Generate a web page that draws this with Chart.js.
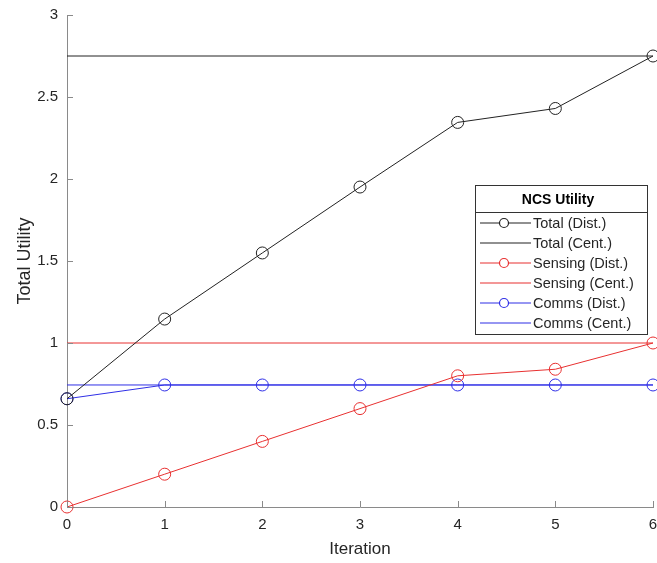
<!DOCTYPE html>
<html>
<head>
<meta charset="utf-8">
<script src="https://cdn.jsdelivr.net/npm/chart.js@4/dist/chart.umd.min.js"></script>
<style>
  html, body { margin: 0; padding: 0; background: #fff; }
  #wrap { width: 657px; height: 563px; }
</style>
</head>
<body>
<div id="wrap"><canvas id="utilityChart" width="657" height="563"></canvas></div>
<script>
// iterations and utility values per series
const iterations = [0, 1, 2, 3, 4, 5, 6];
const totalDist = [0.66, 1.146, 1.549, 1.951, 2.345, 2.43, 2.75];
const totalCent = 2.75;
const sensingDist = [0, 0.2, 0.4, 0.6, 0.8, 0.84, 1.0];
const sensingCent = 1.0;
const commsDist = [0.66, 0.744, 0.744, 0.744, 0.744, 0.744, 0.744];
const commsCent = 0.744;
const yTicks = [0, 0.5, 1, 1.5, 2, 2.5, 3];

const AXIS_GRAY = '#8a8a8a';
const TEXT_GRAY = '#262626';
const BLACK = '#222222';
const RED = '#e83030';
const BLUE = '#2f2fe6';
const FONT = '"Liberation Sans", Arial, Helvetica, sans-serif';

function pts(values) {
    return iterations.map((x, i) => ({ x: x, y: values[i] }));
}
function flat(v) {
    return [{ x: iterations[0], y: v }, { x: iterations[iterations.length - 1], y: v }];
}

function distSet(label, values, color) {
    return {
        label: label,
        data: pts(values),
        borderColor: color,
        backgroundColor: 'rgba(0,0,0,0)',
        borderWidth: 1,
        pointRadius: 6,
        pointBorderWidth: 1,
        pointBorderColor: color,
        pointBackgroundColor: 'rgba(0,0,0,0)',
        tension: 0,
        clip: false
    };
}
function centSet(label, v, color) {
    return {
        label: label,
        data: flat(v),
        borderColor: color,
        borderWidth: 1,
        pointRadius: 0,
        tension: 0,
        clip: false
    };
}

// inward tick marks like the original axes
const innerTicks = {
    id: 'innerTicks',
    afterDraw(chart) {
        const { ctx, scales: { x, y } } = chart;
        ctx.save();
        ctx.strokeStyle = AXIS_GRAY;
        ctx.lineWidth = 1;
        iterations.forEach(v => {
            const px = Math.round(x.getPixelForValue(v)) + 0.5;
            ctx.beginPath();
            ctx.moveTo(px, y.bottom);
            ctx.lineTo(px, y.bottom - 6);
            ctx.stroke();
        });
        yTicks.forEach(v => {
            const py = Math.round(y.getPixelForValue(v)) + 0.5;
            ctx.beginPath();
            ctx.moveTo(x.left, py);
            ctx.lineTo(x.left + 6, py);
            ctx.stroke();
        });
        ctx.restore();
    }
};

// boxed legend with title, drawn inside the plot area
const boxLegend = {
    id: 'boxLegend',
    afterDraw(chart) {
        const ctx = chart.ctx;
        const left = 475, top = 185, w = 172, h = 149;
        ctx.save();
        ctx.fillStyle = '#fff';
        ctx.fillRect(left, top, w, h);
        ctx.strokeStyle = '#333';
        ctx.lineWidth = 1;
        ctx.strokeRect(left + 0.5, top + 0.5, w, h);
        ctx.beginPath();
        ctx.moveTo(left, top + 27.5);
        ctx.lineTo(left + w, top + 27.5);
        ctx.stroke();

        ctx.fillStyle = '#000';
        ctx.font = 'bold 14px ' + FONT;
        ctx.textAlign = 'center';
        ctx.textBaseline = 'middle';
        ctx.fillText('NCS Utility', left + w / 2 - 3, top + 15);

        ctx.font = '14.5px ' + FONT;
        ctx.textAlign = 'left';
        chart.data.datasets.forEach((ds, i) => {
            const yy = top + 38 + i * 20;
            const color = ds.borderColor;
            ctx.lineWidth = 1.2;
            ctx.strokeStyle = color;
            ctx.beginPath();
            ctx.moveTo(left + 5, yy);
            ctx.lineTo(left + 56, yy);
            ctx.stroke();
            if (ds.pointRadius > 0) {
                ctx.fillStyle = '#fff';
                ctx.beginPath();
                ctx.arc(left + 29, yy, 4.5, 0, Math.PI * 2);
                ctx.fill();
                ctx.strokeStyle = color;
                ctx.stroke();
            }
            ctx.fillStyle = TEXT_GRAY;
            ctx.fillText(ds.label, left + 58, yy + 1);
        });
        ctx.restore();
    }
};

new Chart(document.getElementById('utilityChart'), {
    type: 'line',
    data: {
        datasets: [
            distSet('Total (Dist.)', totalDist, BLACK),
            centSet('Total (Cent.)', totalCent, BLACK),
            distSet('Sensing (Dist.)', sensingDist, RED),
            centSet('Sensing (Cent.)', sensingCent, RED),
            distSet('Comms (Dist.)', commsDist, BLUE),
            centSet('Comms (Cent.)', commsCent, BLUE)
        ]
    },
    options: {
        responsive: false,
        animation: false,
        layout: {
            autoPadding: false,
            padding: { top: 15, right: 4, left: 0, bottom: 0 }
        },
        plugins: {
            legend: { display: false },
            tooltip: { enabled: false }
        },
        scales: {
            x: {
                type: 'linear',
                min: 0,
                max: 6,
                afterFit(scale) {
                    scale.height = 56;
                    scale.paddingLeft = 0;
                    scale.paddingRight = 0;
                },
                grid: { display: false, drawTicks: false },
                border: { display: true, color: AXIS_GRAY, width: 1 },
                ticks: {
                    stepSize: 1,
                    padding: 9,
                    color: TEXT_GRAY,
                    font: { family: FONT, size: 15 }
                },
                title: {
                    display: true,
                    text: 'Iteration',
                    color: TEXT_GRAY,
                    padding: { top: 0, bottom: 3 },
                    font: { family: FONT, size: 17 }
                }
            },
            y: {
                min: 0,
                max: 3,
                afterFit(scale) {
                    scale.width = 67;
                    scale.paddingTop = 0;
                    scale.paddingBottom = 0;
                },
                grid: { display: false, drawTicks: false },
                border: { display: true, color: AXIS_GRAY, width: 1 },
                ticks: {
                    stepSize: 0.5,
                    padding: 9,
                    color: TEXT_GRAY,
                    font: { family: FONT, size: 15 },
                    callback: v => String(v)
                },
                title: {
                    display: true,
                    text: 'Total Utility',
                    color: TEXT_GRAY,
                    padding: { top: 14, bottom: 0 },
                    font: { family: FONT, size: 18 }
                }
            }
        }
    },
    plugins: [innerTicks, boxLegend]
});
</script>
</body>
</html>
